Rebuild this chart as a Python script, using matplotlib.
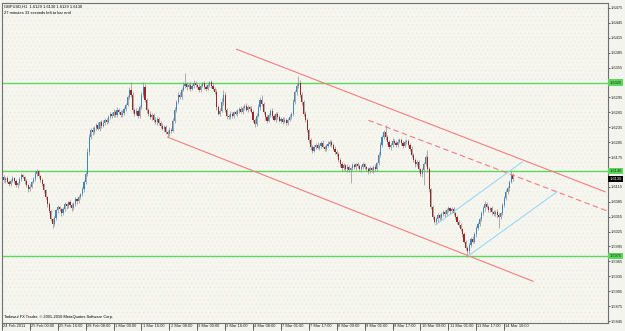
import numpy as np
import matplotlib.pyplot as plt
import matplotlib.transforms as mtransforms

plt.rcParams['hatch.linewidth'] = 0.3
plt.rcParams['font.family'] = ['Liberation Sans', 'DejaVu Sans']

# GBPUSD H1 closes, one per bar (open = previous close)
first_open = 1.6128
closes = [
    1.6135, 1.6128, 1.6132, 1.6125, 1.6120, 1.6127, 1.6133, 1.6126, 1.6118, 1.6122,
    1.6130, 1.6138, 1.6134, 1.6126, 1.6118, 1.6110, 1.6115, 1.6124, 1.6131, 1.6140,
    1.6146, 1.6137, 1.6128, 1.6120, 1.6108, 1.6095, 1.6080, 1.6066, 1.6050, 1.6040,
    1.6052, 1.6068, 1.6075, 1.6070, 1.6062, 1.6070, 1.6080, 1.6076, 1.6085, 1.6079,
    1.6072, 1.6080, 1.6090, 1.6086, 1.6094, 1.6100, 1.6110, 1.6125, 1.6140, 1.6185,
    1.6215, 1.6230, 1.6226, 1.6234, 1.6240, 1.6232, 1.6245, 1.6238, 1.6244, 1.6250,
    1.6246, 1.6255, 1.6262, 1.6258, 1.6266, 1.6260, 1.6270, 1.6265, 1.6259, 1.6264,
    1.6272, 1.6280, 1.6295, 1.6310, 1.6300, 1.6270, 1.6262, 1.6268, 1.6258, 1.6275,
    1.6300, 1.6315, 1.6290, 1.6270, 1.6262, 1.6255, 1.6260, 1.6250, 1.6245, 1.6252,
    1.6244, 1.6238, 1.6232, 1.6236, 1.6226, 1.6222, 1.6230, 1.6228, 1.6248, 1.6270,
    1.6285, 1.6300, 1.6296, 1.6310, 1.6318, 1.6322, 1.6315, 1.6320, 1.6312, 1.6318,
    1.6325, 1.6320, 1.6316, 1.6310, 1.6318, 1.6323, 1.6315, 1.6312, 1.6320, 1.6326,
    1.6318, 1.6312, 1.6305, 1.6275, 1.6262, 1.6268, 1.6285, 1.6300, 1.6270, 1.6258,
    1.6255, 1.6262, 1.6258, 1.6265, 1.6262, 1.6268, 1.6272, 1.6266, 1.6274, 1.6278,
    1.6270, 1.6275, 1.6272, 1.6266, 1.6250, 1.6242, 1.6258, 1.6275, 1.6290, 1.6282,
    1.6265, 1.6255, 1.6248, 1.6260, 1.6268, 1.6258, 1.6250, 1.6262, 1.6255, 1.6248,
    1.6252, 1.6246, 1.6250, 1.6244, 1.6250, 1.6256, 1.6262, 1.6285, 1.6305, 1.6318,
    1.6325, 1.6300, 1.6285, 1.6262, 1.6250, 1.6230, 1.6210, 1.6195, 1.6188, 1.6195,
    1.6200, 1.6194, 1.6198, 1.6204, 1.6196, 1.6192, 1.6198, 1.6202, 1.6206, 1.6200,
    1.6192, 1.6186, 1.6182, 1.6170, 1.6160, 1.6152, 1.6158, 1.6150, 1.6155, 1.6148,
    1.6152, 1.6158, 1.6154, 1.6160, 1.6156, 1.6150, 1.6155, 1.6160, 1.6154, 1.6150,
    1.6146, 1.6152, 1.6148, 1.6155, 1.6150, 1.6162, 1.6180, 1.6200, 1.6215, 1.6225,
    1.6215, 1.6205, 1.6195, 1.6200, 1.6208, 1.6204, 1.6200, 1.6206, 1.6210, 1.6204,
    1.6198, 1.6205, 1.6208, 1.6200, 1.6192, 1.6180, 1.6170, 1.6160, 1.6165, 1.6150,
    1.6140, 1.6148, 1.6160, 1.6175, 1.6150, 1.6110, 1.6075, 1.6055, 1.6045, 1.6050,
    1.6058, 1.6052, 1.6060, 1.6065, 1.6060, 1.6068, 1.6072, 1.6066, 1.6070, 1.6062,
    1.6055, 1.6045, 1.6038, 1.6030, 1.6020, 1.6005, 1.5992, 1.5985, 1.5998, 1.6010,
    1.6005, 1.6020, 1.6032, 1.6040, 1.6050, 1.6062, 1.6072, 1.6080, 1.6075, 1.6068,
    1.6072, 1.6064, 1.6060, 1.6065, 1.6058, 1.6055, 1.6062, 1.6078, 1.6092, 1.6105,
    1.6112, 1.6125, 1.6138, 1.6130,
]
# wick lengths in pips above / below the body
wick_up = [
    3, 4, 2, 5, 3, 4, 3, 2, 4, 3, 5, 4, 3, 2, 4, 3, 5, 3, 4, 6,
    4, 3, 2, 4, 3, 3, 2, 4, 3, 2, 5, 3, 4, 2, 3, 4, 5, 3, 2, 4,
    3, 4, 5, 3, 4, 3, 5, 4, 6, 8, 7, 4, 5, 3, 4, 5, 3, 4, 6, 4,
    3, 5, 4, 3, 5, 4, 6, 3, 4, 5, 3, 4, 5, 6, 16, 6, 4, 5, 3, 4,
    5, 11, 6, 4, 3, 5, 4, 3, 5, 4, 3, 4, 5, 3, 4, 3, 5, 4, 6, 5,
    4, 6, 5, 4, 8, 22, 5, 4, 6, 3, 5, 4, 3, 5, 4, 3, 6, 4, 5, 3,
    4, 5, 3, 6, 4, 5, 8, 10, 6, 4, 3, 5, 4, 3, 5, 4, 3, 5, 4, 3,
    5, 4, 3, 5, 4, 3, 5, 6, 5, 10, 4, 3, 5, 4, 3, 5, 4, 3, 4, 5,
    3, 4, 5, 3, 4, 5, 4, 6, 5, 7, 13, 6, 5, 4, 5, 3, 4, 3, 5, 4,
    3, 5, 4, 3, 6, 4, 3, 5, 4, 3, 4, 5, 3, 4, 3, 5, 4, 3, 5, 4,
    3, 5, 4, 3, 5, 4, 3, 5, 4, 3, 4, 5, 3, 4, 5, 4, 6, 5, 4, 5,
    14, 5, 4, 3, 5, 4, 3, 5, 4, 3, 4, 5, 3, 4, 3, 5, 4, 3, 5, 4,
    3, 5, 6, 5, 14, 4, 3, 4, 3, 5, 4, 3, 5, 4, 3, 5, 4, 3, 5, 4,
    3, 4, 3, 4, 3, 4, 3, 4, 5, 4, 6, 5, 4, 5, 4, 5, 4, 6, 5, 4,
    3, 5, 4, 3, 5, 4, 3, 5, 4, 6, 5, 4, 8, 5,
]
wick_dn = [
    4, 3, 5, 3, 4, 3, 2, 4, 3, 5, 3, 4, 2, 5, 3, 6, 4, 3, 2, 4,
    3, 5, 4, 3, 5, 4, 5, 3, 4, 8, 4, 3, 5, 4, 6, 3, 4, 5, 3, 4,
    5, 3, 4, 5, 3, 4, 3, 5, 4, 3, 5, 4, 6, 4, 5, 3, 4, 5, 3, 4,
    5, 3, 4, 5, 3, 4, 5, 3, 4, 3, 5, 4, 3, 4, 5, 6, 4, 3, 5, 4,
    3, 4, 5, 6, 4, 3, 5, 4, 3, 5, 4, 5, 3, 6, 4, 7, 4, 5, 3, 4,
    5, 3, 4, 5, 3, 4, 5, 3, 4, 3, 5, 4, 3, 5, 4, 3, 4, 5, 3, 4,
    5, 3, 4, 5, 3, 4, 3, 5, 4, 6, 4, 3, 5, 4, 3, 5, 4, 3, 5, 4,
    3, 5, 4, 3, 5, 6, 4, 3, 5, 4, 3, 5, 4, 3, 5, 4, 3, 5, 4, 3,
    5, 4, 3, 5, 4, 3, 5, 4, 3, 5, 4, 5, 6, 5, 4, 5, 6, 5, 4, 3,
    4, 3, 5, 4, 3, 5, 4, 3, 4, 5, 3, 4, 5, 4, 6, 5, 4, 3, 5, 4,
    25, 4, 3, 5, 4, 3, 5, 4, 3, 4, 5, 3, 4, 5, 3, 4, 3, 4, 5, 4,
    5, 4, 3, 5, 4, 3, 5, 4, 3, 4, 5, 3, 4, 5, 4, 5, 4, 5, 3, 5,
    4, 5, 29, 4, 5, 6, 5, 4, 3, 4, 5, 3, 4, 3, 5, 4, 3, 5, 4, 3,
    4, 5, 3, 4, 5, 4, 5, 11, 5, 4, 3, 4, 5, 3, 4, 3, 4, 5, 3, 4,
    4, 5, 3, 4, 5, 23, 4, 3, 4, 3, 4, 5, 3, 4,
]

time_labels = ["24 Feb 2011", "25 Feb 00:00", "25 Feb 16:00", "28 Feb 08:00",
               "1 Mar 00:00", "1 Mar 16:00", "2 Mar 08:00", "3 Mar 00:00",
               "3 Mar 16:00", "4 Mar 08:00", "7 Mar 01:00", "7 Mar 17:00",
               "8 Mar 09:00", "9 Mar 01:00", "9 Mar 17:00", "10 Mar 09:00",
               "11 Mar 01:00", "11 Mar 17:00", "14 Mar 10:00"]
label_step = 16

levels = [1.6325, 1.6146, 1.5975]
current_price = 1.6130
header = "GBPUSD,H1  1.6129 1.6130 1.6129 1.6130"
timer = "27 minutes 33 seconds left to bar end"
footer = "Tadawul FX Trader, \u00a9 2001-2010 MetaQuotes Software Corp."

# trend lines as (bar, price) end points
red_upper = [(134.5, 1.6392), (346.0, 1.6105)]
red_lower = [(95.0, 1.6215), (304.6, 1.5925)]
red_dashed = [(210.2, 1.6249), (347.5, 1.6066)]
blue_upper = [(248.5, 1.6038), (298.3, 1.6165)]
blue_lower = [(267.4, 1.5976), (318.4, 1.6105)]

closes = np.array(closes)
opens = np.concatenate([[first_open], closes[:-1]])
highs = np.maximum(opens, closes) + np.array(wick_up) * 0.0001
lows = np.minimum(opens, closes) - np.array(wick_dn) * 0.0001
idx = np.arange(len(closes))

fig = plt.figure(figsize=(6.25, 3.31), dpi=100, facecolor='#f4f4ef')
ax = fig.add_axes([2 / 625, 8 / 331, 606 / 625, 320 / 331])
ax.set_facecolor('#f6f6f1')
ax.patch.set_hatch('....')
ax.patch.set_edgecolor('#efe6d2')

fs = 2.9
# levels
for lv in levels:
    ax.axhline(lv, color='#5cd65c', lw=1.0, zorder=2)

# candles
up = closes >= opens
ax.vlines(idx, lows, highs, color='#8e8e8e', lw=0.5, zorder=3)
body_lo = np.minimum(opens, closes)
body_h = np.maximum(np.abs(closes - opens), 0.00005)
ax.bar(idx[up], body_h[up], bottom=body_lo[up], width=0.65, color='#3f86c0', lw=0, zorder=4)
ax.bar(idx[~up], body_h[~up], bottom=body_lo[~up], width=0.65, color='#a02222', lw=0, zorder=4)

# trend lines
for ln in [red_upper, red_lower]:
    ax.plot([ln[0][0], ln[1][0]], [ln[0][1], ln[1][1]], color='#f47c7c', lw=0.8, zorder=5)
ax.plot([red_dashed[0][0], red_dashed[1][0]], [red_dashed[0][1], red_dashed[1][1]],
        color='#f47c7c', lw=0.8, ls=(0, (5, 3)), zorder=5)
for ln in [blue_upper, blue_lower]:
    ax.plot([ln[0][0], ln[1][0]], [ln[0][1], ln[1][1]], color='#8fd4f2', lw=0.7, zorder=5)

ax.set_xlim(0.5, 347.6)
ax.set_ylim(1.5841, 1.6485)

# price scale, labels hidden where a level box sits
yt = np.arange(1.5845, 1.6476, 0.003)
boxes = levels + [current_price]
ax.yaxis.tick_right()
ax.set_yticks(yt)
ax.set_yticklabels(['' if min(abs(v - b) for b in boxes) < 0.0009 else '%.4f' % v for v in yt])
ax.tick_params(axis='y', labelsize=fs, length=1.5, width=0.5, pad=0.6, colors='#202020')

xt = np.arange(0, len(time_labels) * label_step, label_step)
ax.set_xticks(xt)
ax.set_xticklabels(time_labels)
ax.tick_params(axis='x', labelsize=fs, length=5, width=0.5, pad=-4.2, colors='#202020')
shift = mtransforms.ScaledTranslation(1.2 / 100, 0, fig.dpi_scale_trans)
for lab in ax.get_xticklabels():
    lab.set_ha('left')
    lab.set_va('top')
    lab.set_transform(lab.get_transform() + shift)

for s in ax.spines.values():
    s.set_color('#707070')
    s.set_linewidth(0.8)

# right axis price labels
for lv in levels:
    ax.annotate('%.4f' % lv, xy=(1, lv), xycoords=('axes fraction', 'data'),
                xytext=(1.0, 0), textcoords='offset points', va='center', ha='left',
                fontsize=fs, color='#103010', zorder=10,
                bbox=dict(boxstyle='square,pad=0.25', fc='#5cd65c', ec='none'),
                annotation_clip=False)
ax.annotate('%.4f' % current_price, xy=(1, current_price), xycoords=('axes fraction', 'data'),
            xytext=(1.0, 0), textcoords='offset points', va='center', ha='left',
            fontsize=fs, color='white', zorder=10,
            bbox=dict(boxstyle='square,pad=0.25', fc='black', ec='none'),
            annotation_clip=False)

ax.text(0.003, 0.995, header, transform=ax.transAxes, fontsize=fs, va='top', ha='left')
ax.text(0.003, 0.975, timer, transform=ax.transAxes, fontsize=fs, va='top', ha='left')
ax.text(0.003, 0.012, footer, transform=ax.transAxes, fontsize=fs, va='bottom', ha='left')

fig.savefig('out.png', dpi=100, facecolor=fig.get_facecolor())
